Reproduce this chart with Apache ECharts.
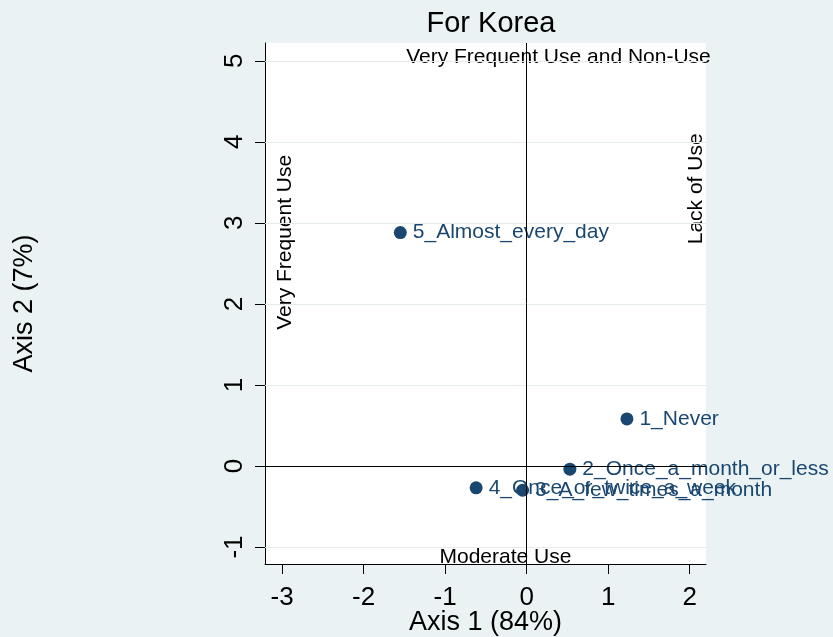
<!DOCTYPE html>
<html>
<head>
<meta charset="utf-8">
<script src="https://cdn.jsdelivr.net/npm/echarts@6/dist/echarts.min.js"></script>
<style>
  html, body { margin: 0; padding: 0; background: #eaf2f3; }
  #main { width: 833px; height: 637px; }
</style>
</head>
<body>
<div id="main"></div>
<script>
// correspondence analysis map: row points for Korea
var titleText = 'For Korea';
var xName = 'Axis 1 (84%)';
var yName = 'Axis 2 (7%)';
var pointNames = ['1_Never', '2_Once_a_month_or_less', '3_A_few_times_a_month', '4_Once_or_twice_a_week', '5_Almost_every_day'];
var axis1 = [1.23, 0.53, -0.05, -0.62, -1.55];
var axis2 = [0.58, -0.04, -0.30, -0.27, 2.88];
var xTicks = [-3, -2, -1, 0, 1, 2];
var yTicks = [-1, 0, 1, 2, 3, 4, 5];
// quadrant notes (text placed in data space)
var noteTexts = ['Very Frequent Use and Non-Use', 'Moderate Use', 'Very Frequent Use', 'Lack of Use'];
var noteX = [0.39, -0.26, -2.96, 2.08];
var noteY = [5.05, -1.12, 2.76, 3.42];
var noteRotate = [0, 0, 90, 90];

var font = 'Liberation Sans, Arial, sans-serif';
var navy = '#1a476f';

var myChart = echarts.init(document.getElementById('main'));

var points = pointNames.map(function (n, i) {
    return { name: n, value: [axis1[i], axis2[i]] };
});
var notes = noteTexts.map(function (t, i) {
    return { name: t, value: [noteX[i], noteY[i]], label: { rotate: noteRotate[i] } };
});

var option = {
    backgroundColor: '#eaf2f3',
    animation: false,
    title: {
        text: titleText,
        left: 486,
        textAlign: 'center',
        top: 4,
        textStyle: { fontFamily: font, fontSize: 29, fontWeight: 'normal', color: '#000' }
    },
    grid: {
        left: 265,
        right: 127,
        top: 43,
        bottom: 73,
        outerBoundsMode: 'none',
        containLabel: false,
        show: true,
        backgroundColor: '#fff',
        borderWidth: 0
    },
    xAxis: {
        type: 'value',
        min: -3.21,
        max: 2.2,
        name: xName,
        nameLocation: 'middle',
        nameGap: 45,
        nameMoveOverlap: false,
        nameTextStyle: { fontFamily: font, fontSize: 27, color: '#000' },
        axisLine: { show: true, onZero: false, lineStyle: { color: '#000', width: 1 } },
        axisTick: { show: true, length: 10, customValues: xTicks, lineStyle: { color: '#000' } },
        axisLabel: { customValues: xTicks, margin: 21, fontFamily: font, fontSize: 26, color: '#000' },
        splitLine: { show: false }
    },
    yAxis: {
        type: 'value',
        min: -1.21,
        max: 5.22,
        name: yName,
        nameLocation: 'middle',
        nameRotate: 90,
        nameGap: 227,
        nameMoveOverlap: false,
        nameTextStyle: { fontFamily: font, fontSize: 27, color: '#000' },
        axisLine: { show: true, onZero: false, lineStyle: { color: '#000', width: 1 } },
        axisTick: { show: true, length: 10, customValues: yTicks, lineStyle: { color: '#000' } },
        axisLabel: { customValues: yTicks, rotate: 90, margin: 17, fontFamily: font, fontSize: 26, color: '#000' },
        splitLine: { show: false }
    },
    series: [
        {
            // light grid lines
            type: 'scatter',
            data: [],
            z: 1,
            silent: true,
            markLine: {
                silent: true,
                symbol: 'none',
                label: { show: false },
                lineStyle: { color: '#e3ebee', width: 1, type: 'solid', opacity: 1 },
                data: yTicks.map(function (v) { return { yAxis: v }; })
            }
        },
        {
            // zero reference lines + notes
            type: 'scatter',
            symbolSize: 0,
            z: 2,
            data: notes,
            itemStyle: { opacity: 1 },
            label: {
                show: true,
                position: 'inside',
                formatter: '{b}',
                fontFamily: font,
                fontSize: 21,
                color: '#000'
            },
            markLine: {
                silent: true,
                symbol: 'none',
                label: { show: false },
                lineStyle: { color: '#000', width: 1, type: 'solid', opacity: 1 },
                data: [{ xAxis: 0 }, { yAxis: 0 }]
            }
        },
        {
            type: 'scatter',
            z: 3,
            symbol: 'circle',
            symbolSize: 13,
            itemStyle: { color: navy, opacity: 1 },
            data: points,
            label: {
                show: true,
                position: 'right',
                distance: 6,
                formatter: '{b}',
                fontFamily: font,
                fontSize: 21,
                color: navy
            }
        }
    ]
};
myChart.setOption(option);
</script>
</body>
</html>
